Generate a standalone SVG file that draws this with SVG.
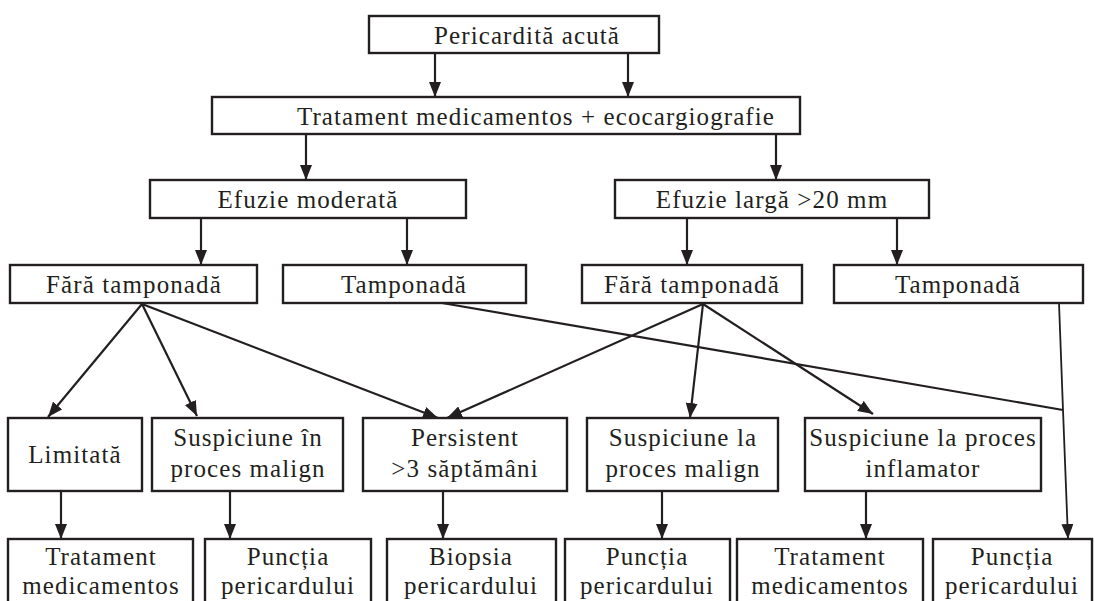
<svg xmlns="http://www.w3.org/2000/svg" width="1095" height="601" viewBox="0 0 1095 601">
  <style>
    .box { fill: #ffffff; stroke: #231f20; stroke-width: 2.4; }
    .lbl { font-family: "Liberation Serif", "Times New Roman", serif; font-size: 25px; letter-spacing: 1.1px; fill: #231f20; text-anchor: middle; }
    .edge { fill: none; stroke: #231f20; stroke-width: 2.2; }
    .thin { stroke-width: 1.8; }
  </style>
  <defs>
    <marker id="arrow" markerUnits="userSpaceOnUse" markerWidth="16" markerHeight="12" refX="15" refY="6" orient="auto">
      <path d="M0,0 L15,6 L0,12 Z" fill="#231f20"/>
    </marker>
  </defs>
  <rect width="1095" height="601" fill="#ffffff"/>

  <!-- connectors -->
  <g id="connectors">
    <line class="edge" x1="435" y1="53" x2="435" y2="97" marker-end="url(#arrow)"/>
    <line class="edge" x1="628" y1="53" x2="628" y2="97" marker-end="url(#arrow)"/>
    <line class="edge" x1="306" y1="134" x2="306" y2="180" marker-end="url(#arrow)"/>
    <line class="edge" x1="776" y1="134" x2="776" y2="180" marker-end="url(#arrow)"/>
    <line class="edge" x1="201" y1="218" x2="201" y2="265" marker-end="url(#arrow)"/>
    <line class="edge" x1="407" y1="218" x2="407" y2="265" marker-end="url(#arrow)"/>
    <line class="edge" x1="687" y1="218" x2="687" y2="265" marker-end="url(#arrow)"/>
    <line class="edge" x1="897" y1="218" x2="897" y2="265" marker-end="url(#arrow)"/>
    <!-- from left "Fără tamponadă" -->
    <line class="edge" x1="142" y1="304" x2="48" y2="417" marker-end="url(#arrow)"/>
    <line class="edge" x1="142" y1="304" x2="197" y2="416" marker-end="url(#arrow)"/>
    <line class="edge" x1="142" y1="304" x2="438" y2="418" marker-end="url(#arrow)"/>
    <!-- from right "Fără tamponadă" -->
    <line class="edge" x1="703" y1="304" x2="447" y2="418" marker-end="url(#arrow)"/>
    <line class="edge" x1="703" y1="304" x2="690" y2="418" marker-end="url(#arrow)"/>
    <line class="edge" x1="703" y1="304" x2="873" y2="414" marker-end="url(#arrow)"/>
    <!-- from both "Tamponadă" boxes to the last puncture -->
    <line class="edge" x1="442" y1="303" x2="1063" y2="410"/>
    <polyline class="edge thin" points="1059,303 1063,410 1068,539" marker-end="url(#arrow)"/>
    <!-- into the bottom row -->
    <line class="edge" x1="61" y1="491" x2="61" y2="539" marker-end="url(#arrow)"/>
    <line class="edge" x1="230" y1="491" x2="230" y2="539" marker-end="url(#arrow)"/>
    <line class="edge" x1="443" y1="491" x2="443" y2="539" marker-end="url(#arrow)"/>
    <line class="edge" x1="662" y1="491" x2="662" y2="539" marker-end="url(#arrow)"/>
    <line class="edge" x1="866" y1="491" x2="866" y2="539" marker-end="url(#arrow)"/>
  </g>

  <!-- row 1 -->
  <g id="n-pericardita">
    <rect class="box" x="369" y="16" width="290" height="37"/>
    <text class="lbl" x="527" y="44">Pericardită acută</text>
  </g>
  <!-- row 2 -->
  <g id="n-tratament-eco">
    <rect class="box" x="212" y="97" width="588" height="37"/>
    <text class="lbl" x="536" y="125">Tratament medicamentos + ecocargiografie</text>
  </g>
  <!-- row 3 -->
  <g id="n-efuzie-moderata">
    <rect class="box" x="150" y="180" width="316" height="38"/>
    <text class="lbl" x="308" y="208">Efuzie moderată</text>
  </g>
  <g id="n-efuzie-larga">
    <rect class="box" x="615" y="180" width="314" height="38"/>
    <text class="lbl" x="772" y="208">Efuzie largă &gt;20 mm</text>
  </g>
  <!-- row 4 -->
  <g id="n-fara-tamp-1">
    <rect class="box" x="10" y="265" width="247" height="38"/>
    <text class="lbl" x="134" y="293">Fără tamponadă</text>
  </g>
  <g id="n-tamp-1">
    <rect class="box" x="283" y="265" width="243" height="38"/>
    <text class="lbl" x="404" y="293">Tamponadă</text>
  </g>
  <g id="n-fara-tamp-2">
    <rect class="box" x="582" y="265" width="220" height="38"/>
    <text class="lbl" x="692" y="293">Fără tamponadă</text>
  </g>
  <g id="n-tamp-2">
    <rect class="box" x="834" y="265" width="249" height="38"/>
    <text class="lbl" x="958" y="293">Tamponadă</text>
  </g>
  <!-- row 5 -->
  <g id="n-limitata">
    <rect class="box" x="8" y="418" width="134" height="73"/>
    <text class="lbl" x="75" y="463">Limitată</text>
  </g>
  <g id="n-susp-in-malign">
    <rect class="box" x="152" y="418" width="191" height="73"/>
    <text class="lbl" x="248" y="446">Suspiciune în</text>
    <text class="lbl" x="248" y="477">proces malign</text>
  </g>
  <g id="n-persistent">
    <rect class="box" x="363" y="418" width="204" height="73"/>
    <text class="lbl" x="465" y="446">Persistent</text>
    <text class="lbl" x="465" y="477">&gt;3 săptămâni</text>
  </g>
  <g id="n-susp-la-malign">
    <rect class="box" x="587" y="418" width="191" height="73"/>
    <text class="lbl" x="683" y="446">Suspiciune la</text>
    <text class="lbl" x="683" y="477">proces malign</text>
  </g>
  <g id="n-susp-inflamator">
    <rect class="box" x="805" y="418" width="236" height="73"/>
    <text class="lbl" x="923" y="446">Suspiciune la proces</text>
    <text class="lbl" x="923" y="477">inflamator</text>
  </g>
  <!-- row 6 -->
  <g id="n-trat-1">
    <rect class="box" x="8" y="539" width="185" height="80"/>
    <text class="lbl" x="101" y="565">Tratament</text>
    <text class="lbl" x="101" y="594">medicamentos</text>
  </g>
  <g id="n-punctie-1">
    <rect class="box" x="205" y="539" width="166" height="80"/>
    <text class="lbl" x="288" y="565">Puncția</text>
    <text class="lbl" x="288" y="594">pericardului</text>
  </g>
  <g id="n-biopsie">
    <rect class="box" x="387" y="539" width="169" height="80"/>
    <text class="lbl" x="471" y="565">Biopsia</text>
    <text class="lbl" x="471" y="594">pericardului</text>
  </g>
  <g id="n-punctie-2">
    <rect class="box" x="565" y="539" width="165" height="80"/>
    <text class="lbl" x="647" y="565">Puncția</text>
    <text class="lbl" x="647" y="594">pericardului</text>
  </g>
  <g id="n-trat-2">
    <rect class="box" x="737" y="539" width="186" height="80"/>
    <text class="lbl" x="830" y="565">Tratament</text>
    <text class="lbl" x="830" y="594">medicamentos</text>
  </g>
  <g id="n-punctie-3">
    <rect class="box" x="933" y="539" width="159" height="80"/>
    <text class="lbl" x="1012" y="565">Puncția</text>
    <text class="lbl" x="1012" y="594">pericardului</text>
  </g>
</svg>
